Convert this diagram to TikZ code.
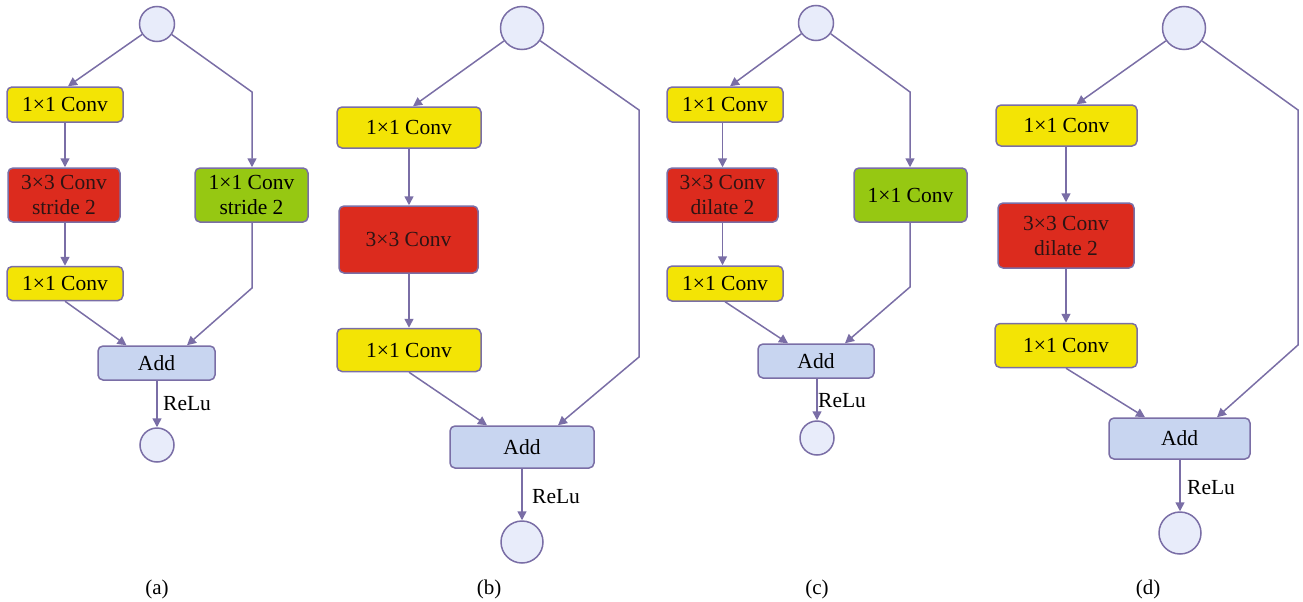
\documentclass[tikz,border=0pt]{standalone}
\usepackage{fontspec}
\setmainfont{Liberation Serif}
\usetikzlibrary{arrows.meta}

\definecolor{edgecol}{RGB}{122,110,166}
\definecolor{convyellow}{RGB}{243,228,5}
\definecolor{convred}{RGB}{220,43,30}
\definecolor{convgreen}{RGB}{150,200,18}
\definecolor{addfill}{RGB}{200,213,240}
\definecolor{iofill}{RGB}{232,236,250}

\tikzset{
  blk/.style={draw=edgecol, line width=1.5pt, rounded corners=5pt, inner sep=0pt,
    align=center, text=black, font=\fontsize{21.5}{25}\selectfont},
  yel/.style={blk, fill=convyellow},
  redb/.style={blk, fill=convred, text={rgb,255:red,45;green,20;blue,20}},
  grn/.style={blk, fill=convgreen},
  addb/.style={blk, fill=addfill},
  io/.style={circle, draw=edgecol, line width=1.5pt, fill=iofill, inner sep=0pt},
  conn/.style={draw=edgecol, line width=1.5pt, -{Triangle[length=9pt,width=9pt]}},
  relu/.style={anchor=west, inner sep=0pt, text=black, font=\fontsize{21.5}{25}\selectfont},
  subcap/.style={inner sep=0pt, text=black, font=\fontsize{21}{25}\selectfont}
}

\begin{document}
\begin{tikzpicture}[x=1pt,y=-1pt]
\useasboundingbox (0,0) rectangle (1303,602);

% ---------- (a) bottleneck with stride-2 projection ----------
\node[io, minimum size=35pt] (a0) at (157,24) {};
\node[yel, minimum width=116pt, minimum height=35pt] (a1) at (65,104.5) {1×1 Conv};
\node[redb, minimum width=112pt, minimum height=54pt] (a2) at (64,195) {3×3 Conv\\stride 2};
\node[yel, minimum width=116pt, minimum height=34pt] (a3) at (65,283.5) {1×1 Conv};
\node[grn, minimum width=113pt, minimum height=54pt] (a4) at (251.5,195) {1×1 Conv\\stride 2};
\node[addb, minimum width=117pt, minimum height=34pt] (aadd) at (156.5,363) {Add};
\node[io, minimum size=34pt] (aout) at (157,445) {};
\coordinate (ak1) at (252,92);
\coordinate (ak2) at (252,288);
\node[relu] (arelu) at (163,404) {ReLu};

\draw[conn] (a0) -- ([xshift=3pt]a1.north);
\draw[conn] (a1.south) -- (a1.south |- a2.north);
\draw[conn] (a1.south |- a2.south) -- (a3.north);
\draw[conn] (a0) -- (ak1) -- (ak1 |- a4.north);
\draw[conn] (a3.south) -- ([xshift=-30pt]aadd.north);
\draw[conn] (ak1 |- a4.south) -- (ak2) -- ([xshift=30.5pt]aadd.north);
\draw[conn] ([xshift=0.5pt]aadd.south) -- (aout.north);

% ---------- (b) bottleneck with identity shortcut ----------
\node[io, minimum size=43pt] (b0) at (522,28) {};
\node[yel, minimum width=144pt, minimum height=41pt] (b1) at (409,127.5) {1×1 Conv};
\node[redb, minimum width=139pt, minimum height=67pt] (b2) at (408.5,239.5) {3×3 Conv};
\node[yel, minimum width=144pt, minimum height=43pt] (b3) at (409,350) {1×1 Conv};
\node[addb, minimum width=144pt, minimum height=42pt] (badd) at (522,447) {Add};
\node[io, minimum size=42pt] (bout) at (522,542) {};
\coordinate (bk1) at (639,110);
\coordinate (bk2) at (639,357);
\node[relu] (brelu) at (532,497) {ReLu};

\draw[conn] (b0) -- ([xshift=4pt]b1.north);
\draw[conn] (b1.south) -- (b1.south |- b2.north);
\draw[conn] (b1.south |- b2.south) -- (b3.north);
\draw[conn] (b3.south) -- ([xshift=-35pt]badd.north);
\draw[conn] (b0) -- (bk1) -- (bk2) -- ([xshift=36pt]badd.north);
\draw[conn] (badd.south) -- (bout.north);

% ---------- (c) dilated bottleneck with projection ----------
\node[io, minimum size=35pt] (c0) at (816,23) {};
\node[yel, minimum width=116pt, minimum height=35pt] (c1) at (725,104.5) {1×1 Conv};
\node[redb, minimum width=111pt, minimum height=54pt] (c2) at (722.5,195) {3×3 Conv\\dilate 2};
\node[yel, minimum width=116pt, minimum height=35pt] (c3) at (725,283.5) {1×1 Conv};
\node[grn, minimum width=113pt, minimum height=54pt] (c4) at (910.5,195) {1×1 Conv};
\node[addb, minimum width=116pt, minimum height=34pt] (cadd) at (816,361) {Add};
\node[io, minimum size=34pt] (cout) at (817,438) {};
\coordinate (ck1) at (910,92);
\coordinate (ck2) at (910,287);
\node[relu] (crelu) at (818,401) {ReLu};

\draw[conn] (c0) -- ([xshift=5pt]c1.north);
\draw[conn] (c2.north |- c1.south) -- (c2.north);
\draw[conn] (c2.south) -- (c2.south |- c3.north);
\draw[conn] (c0) -- (ck1) -- (ck1 |- c4.north);
\draw[conn] (c3.south) -- ([xshift=-28pt]cadd.north);
\draw[conn] (ck1 |- c4.south) -- (ck2) -- ([xshift=29pt]cadd.north);
\draw[conn] (cout.north |- cadd.south) -- (cout.north);

% ---------- (d) dilated bottleneck with identity shortcut ----------
\node[io, minimum size=43pt] (d0) at (1184,28) {};
\node[yel, minimum width=141pt, minimum height=41pt] (d1) at (1066.5,125.5) {1×1 Conv};
\node[redb, minimum width=136pt, minimum height=65pt] (d2) at (1066,235.5) {3×3 Conv\\dilate 2};
\node[yel, minimum width=142pt, minimum height=44pt] (d3) at (1066,345.5) {1×1 Conv};
\node[addb, minimum width=141pt, minimum height=41pt] (dadd) at (1179.5,438.5) {Add};
\node[io, minimum size=42pt] (dout) at (1180,533) {};
\coordinate (dk1) at (1298,110);
\coordinate (dk2) at (1298,345);
\node[relu] (drelu) at (1187,488) {ReLu};

\draw[conn] (d0) -- ([xshift=10pt]d1.north);
\draw[conn] (d2.north |- d1.south) -- (d2.north);
\draw[conn] (d2.south) -- (d3.north);
\draw[conn] (d3.south) -- ([xshift=-34.5pt]dadd.north);
\draw[conn] (d0) -- (dk1) -- (dk2) -- ([xshift=37.5pt]dadd.north);
\draw[conn] (dout.north |- dadd.south) -- (dout.north);

% ---------- sub-figure captions ----------
\node[subcap] (capa) at (157,589) {(a)};
\node[subcap] (capb) at (489,589) {(b)};
\node[subcap] (capc) at (817,589) {(c)};
\node[subcap] (capd) at (1148,589) {(d)};
\end{tikzpicture}
\end{document}
